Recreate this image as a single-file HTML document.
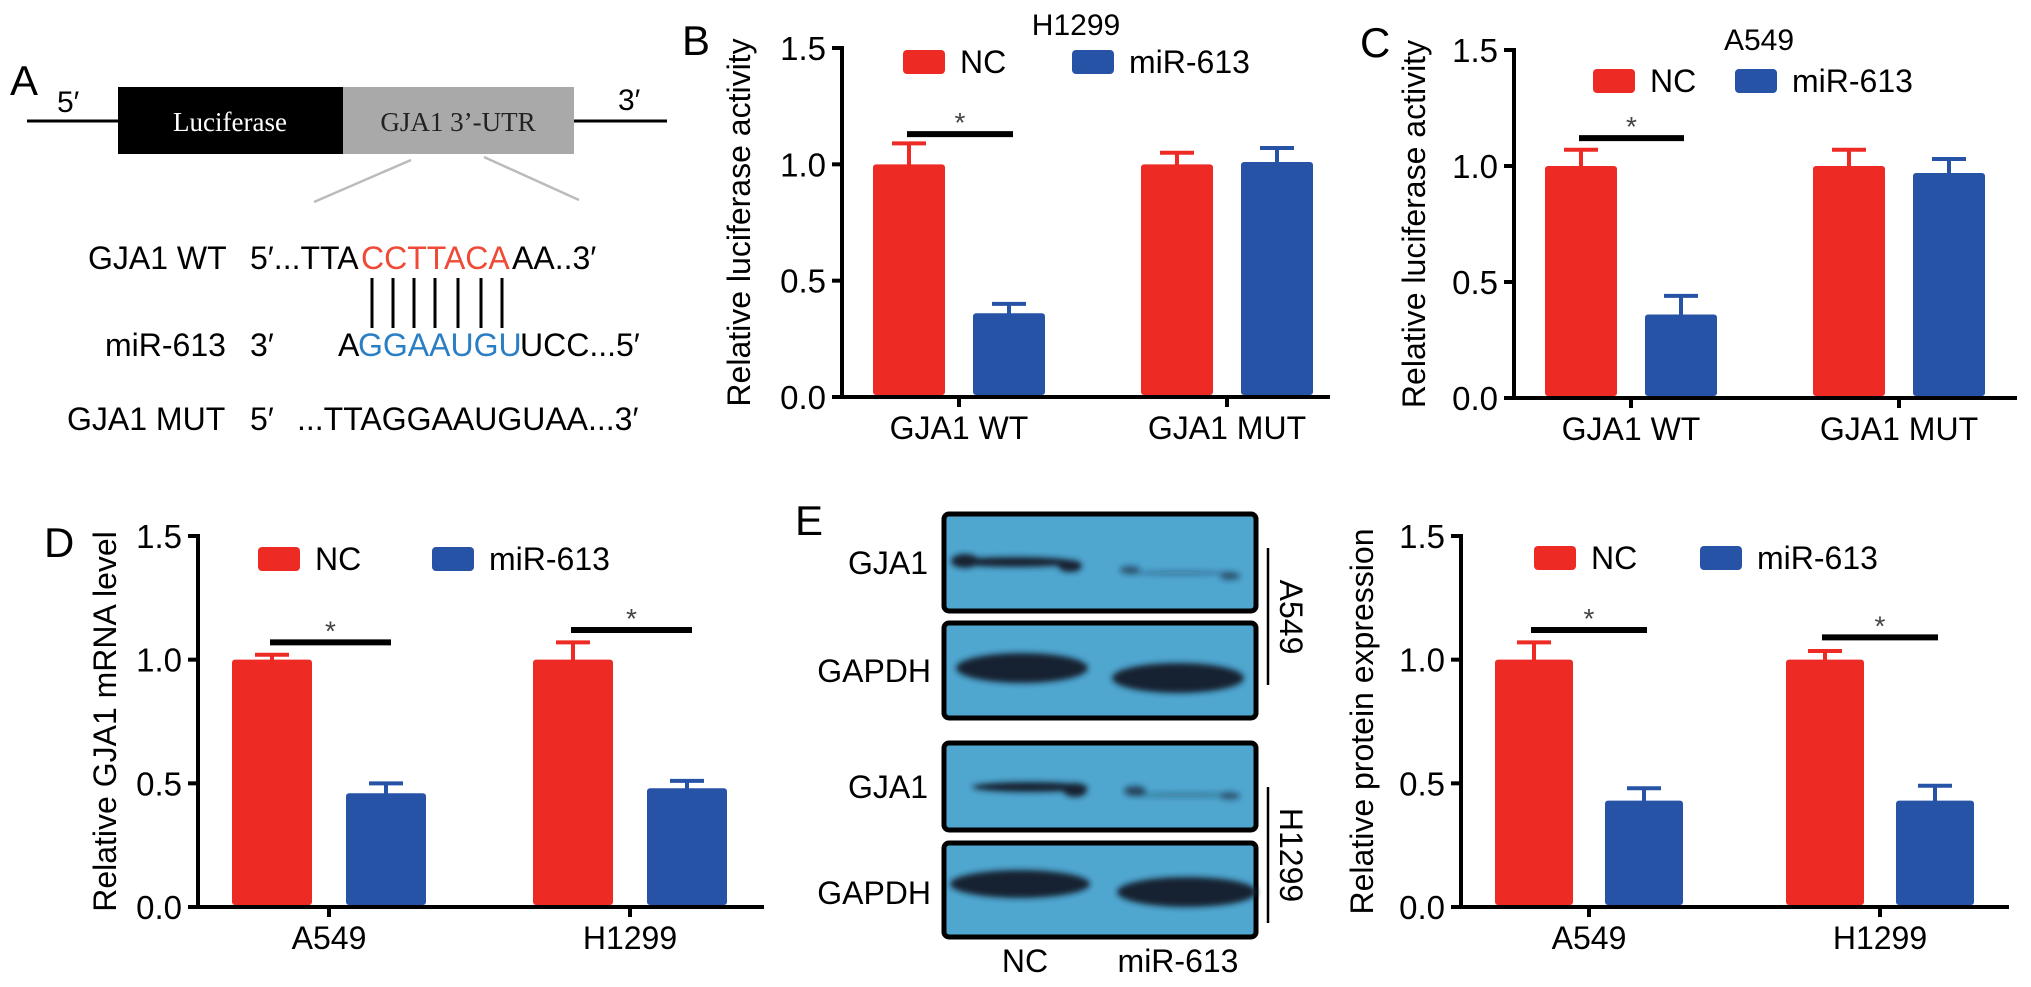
<!DOCTYPE html>
<html><head><meta charset="utf-8">
<style>
html,body{margin:0;padding:0;background:#fff;}
svg{display:block;font-family:"Liberation Sans",Arial,sans-serif;}
</style></head>
<body>
<svg id="fig" width="2031" height="987" viewBox="0 0 2031 987" xmlns="http://www.w3.org/2000/svg">
<defs>
<filter id="blur2" x="-20%" y="-200%" width="140%" height="500%"><feGaussianBlur stdDeviation="3"/></filter>
</defs>
<!-- Panel A -->
<g>
  <text x="10" y="95" font-size="42">A</text>
  <text x="57" y="112" font-size="30">5′</text>
  <line x1="27" y1="121" x2="118" y2="121" stroke="#000" stroke-width="3"/>
  <rect x="118" y="87" width="225" height="67" fill="#000"/>
  <text x="230" y="131" font-size="27" fill="#fff" text-anchor="middle" font-family="Liberation Serif, serif">Luciferase</text>
  <rect x="343" y="87" width="231" height="67" fill="#a9a9a9"/>
  <text x="458" y="131" font-size="27" fill="#222" text-anchor="middle" font-family="Liberation Serif, serif">GJA1 3’-UTR</text>
  <line x1="574" y1="121" x2="667" y2="121" stroke="#000" stroke-width="3"/>
  <text x="618" y="110" font-size="30">3′</text>
  <line x1="411" y1="160" x2="314" y2="202" stroke="#bbb" stroke-width="2.5"/>
  <line x1="484" y1="157" x2="579" y2="200" stroke="#bbb" stroke-width="2.5"/>
  <text x="88" y="269" font-size="32">GJA1 WT</text>
  <text x="250" y="269" font-size="32">5′...TTA</text>
  <text x="361" y="269" font-size="32" fill="#ee4a35">CCTTACA</text>
  <text x="512" y="269" font-size="32">AA..3′</text>
  <g stroke="#000" stroke-width="3">
    <line x1="372" y1="278" x2="372" y2="328"/><line x1="393" y1="278" x2="393" y2="328"/>
    <line x1="414" y1="278" x2="414" y2="328"/><line x1="435" y1="278" x2="435" y2="328"/>
    <line x1="458" y1="278" x2="458" y2="328"/><line x1="481" y1="278" x2="481" y2="328"/>
    <line x1="502" y1="278" x2="502" y2="328"/>
  </g>
  <text x="105" y="356" font-size="32">miR-613</text>
  <text x="250" y="356" font-size="32">3′</text>
  <text x="338" y="356" font-size="32">A</text>
  <text x="358" y="356" font-size="32" fill="#2a7fc4">GGAAUGU</text>
  <text x="520" y="356" font-size="32">UCC...5′</text>
  <text x="67" y="430" font-size="32">GJA1 MUT</text>
  <text x="250" y="430" font-size="32">5′</text>
  <text x="297" y="430" font-size="32">...TTAGGAAUGUAA...3′</text>
</g>
<g id="charts"></g>
<!-- Panel E blots -->
<g>
  <text x="795" y="535" font-size="42">E</text>
  <rect x="944" y="514" width="312" height="97" rx="5" fill="#4fa6cf" stroke="#000" stroke-width="5"/>
  <rect x="944" y="623" width="312" height="95" rx="5" fill="#4fa6cf" stroke="#000" stroke-width="5"/>
  <rect x="944" y="743" width="312" height="87" rx="5" fill="#4fa6cf" stroke="#000" stroke-width="5"/>
  <rect x="944" y="843" width="312" height="94" rx="5" fill="#4fa6cf" stroke="#000" stroke-width="5"/>
  <g fill="#142030" filter="url(#blur2)">
    <ellipse cx="1015" cy="562" rx="60" ry="5"/><ellipse cx="965" cy="561" rx="14" ry="7"/><ellipse cx="1070" cy="566" rx="12" ry="6"/>
    <ellipse cx="1130" cy="570" rx="10" ry="4" opacity="0.6"/><ellipse cx="1230" cy="576" rx="10" ry="4" opacity="0.6"/><ellipse cx="1180" cy="573" rx="50" ry="2" opacity="0.35"/>
    <ellipse cx="1022" cy="668" rx="66" ry="15"/><ellipse cx="1178" cy="678" rx="66" ry="15"/>
    <ellipse cx="1030" cy="787" rx="58" ry="5"/><ellipse cx="1075" cy="790" rx="12" ry="7"/>
    <ellipse cx="1135" cy="791" rx="11" ry="5" opacity="0.7"/><ellipse cx="1185" cy="795" rx="55" ry="2" opacity="0.4"/><ellipse cx="1230" cy="796" rx="10" ry="4" opacity="0.5"/>
    <ellipse cx="1020" cy="884" rx="70" ry="14"/><ellipse cx="1187" cy="892" rx="70" ry="15"/>
  </g>
  <text x="928" y="574" font-size="32" text-anchor="end">GJA1</text>
  <text x="931" y="682" font-size="32" text-anchor="end">GAPDH</text>
  <text x="928" y="798" font-size="32" text-anchor="end">GJA1</text>
  <text x="931" y="904" font-size="32" text-anchor="end">GAPDH</text>
  <line x1="1268" y1="548" x2="1268" y2="685" stroke="#000" stroke-width="2.5"/>
  <line x1="1268" y1="787" x2="1268" y2="923" stroke="#000" stroke-width="2.5"/>
  <text transform="translate(1280,617) rotate(90)" font-size="32" text-anchor="middle">A549</text>
  <text transform="translate(1280,855) rotate(90)" font-size="32" text-anchor="middle">H1299</text>
  <text x="1025" y="972" font-size="32" text-anchor="middle">NC</text>
  <text x="1178" y="972" font-size="32" text-anchor="middle">miR-613</text>
</g>
</svg>
<script>
// ---- data ----
const tickValues = [0, 0.5, 1.0, 1.5];
const tickLabels = ['0.0', '0.5', '1.0', '1.5'];
const seriesNames = ['NC', 'miR-613'];
const bCategories = ['GJA1 WT', 'GJA1 MUT'];
const bNC = [1.0, 1.0];
const bNCerr = [0.09, 0.05];
const bMiR = [0.36, 1.01];
const bMiRerr = [0.04, 0.06];
const bSig = [1.13, null];
const cCategories = ['GJA1 WT', 'GJA1 MUT'];
const cNC = [1.0, 1.0];
const cNCerr = [0.07, 0.07];
const cMiR = [0.36, 0.97];
const cMiRerr = [0.08, 0.06];
const cSig = [1.12, null];
const dCategories = ['A549', 'H1299'];
const dNC = [1.0, 1.0];
const dNCerr = [0.02, 0.07];
const dMiR = [0.46, 0.48];
const dMiRerr = [0.04, 0.03];
const dSig = [1.07, 1.12];
const eCategories = ['A549', 'H1299'];
const eNC = [1.0, 1.0];
const eNCerr = [0.07, 0.035];
const eMiR = [0.43, 0.43];
const eMiRerr = [0.05, 0.06];
const eSig = [1.12, 1.09];

const RED = '#ee2a24', BLUE = '#2753a7';
const NS = 'http://www.w3.org/2000/svg';
const root = document.getElementById('charts');
function mk(tag, attrs, parent) {
  const e = document.createElementNS(NS, tag);
  for (const k in attrs) e.setAttribute(k, attrs[k]);
  (parent || root).appendChild(e);
  return e;
}
function chart(o) {
  const g = mk('g', {});
  
  
  const yScale = v => o.y0 - v * (o.y0 - o.y15) / 1.5;
  const xCenter = i => o.c0 + i * o.spacing;
  const L = mk('text', {x: o.letterX, y: o.letterY, 'font-size': 42}, g);
  L.textContent = o.letter;
  
  
  if (o.title) {
    const t = mk('text', {x: o.titleX, y: o.titleY, 'font-size': 30, 'text-anchor': 'middle'}, g);
    t.textContent = o.title;
    
    
  }
  const yl = mk('text', {transform: `translate(${o.ylabX},${(o.y0 + o.y15) / 2}) rotate(-90)`, 'font-size': 32, 'text-anchor': 'middle'}, g);
  yl.textContent = o.ylabel;
  
  
  const ya = mk('line', {x1: o.ax, y1: yScale(1.5) - 2, x2: o.ax, y2: o.y0, stroke: '#000', 'stroke-width': 4}, g);
  
  
  tickValues.forEach((v, i) => {
    const tk = mk('line', {x1: o.ax - 10, y1: yScale(v), x2: o.ax, y2: yScale(v), stroke: '#000', 'stroke-width': 4}, g);
    
    
    const tl = mk('text', {x: o.ax - 16, y: yScale(v) + 12, 'font-size': 33, 'text-anchor': 'end'}, g);
    tl.textContent = tickLabels[i];
    
    
  });
  const xa = mk('line', {x1: o.ax - 2, y1: o.y0, x2: o.xEnd, y2: o.y0, stroke: '#000', 'stroke-width': 4}, g);
  
  
  o.cats.forEach((c, i) => {
    const cx = xCenter(i);
    const tk = mk('line', {x1: cx, y1: o.y0, x2: cx, y2: o.y0 + 10, stroke: '#000', 'stroke-width': 4}, g);
    
    
    const tl = mk('text', {x: cx, y: o.y0 + 42, 'font-size': 32, 'text-anchor': 'middle'}, g);
    tl.textContent = c;
    
    
    [[o.nc, o.ncErr, RED, -1], [o.mir, o.mirErr, BLUE, 1]].forEach(([vals, errs, col, sgn]) => {
      const bc = cx + sgn * o.off;
      const top = yScale(vals[i]);
      const et = yScale(vals[i] + errs[i]);
      const el = mk('line', {x1: bc, y1: et, x2: bc, y2: top + 2, stroke: col, 'stroke-width': 4}, g);
      
      
      const ec = mk('line', {x1: bc - 17, y1: et, x2: bc + 17, y2: et, stroke: col, 'stroke-width': 4}, g);
      
      
      const r = mk('rect', {x: bc - o.bw / 2, y: top, width: o.bw, height: o.y0 - top - 2, rx: 3, fill: col}, g);
      
      
    });
    if (o.sig[i] != null) {
      const sy = yScale(o.sig[i]);
      const sl = mk('line', {x1: cx + o.sigL, y1: sy, x2: cx + o.sigR, y2: sy, stroke: '#000', 'stroke-width': 6}, g);
      
      
      const st = mk('text', {x: cx + (o.sigL + o.sigR) / 2, y: sy - 2, 'font-size': 28, 'text-anchor': 'middle', fill: '#444'}, g);
      st.textContent = '*';
      
      
    }
  });
  [[o.legX[0], RED], [o.legX[1], BLUE]].forEach(([lx, col], k) => {
    const sw = mk('rect', {x: lx, y: o.legY, width: 42, height: 24, rx: 4, fill: col}, g);
    
    
    const lt = mk('text', {x: lx + 57, y: o.legY + 23, 'font-size': 32}, g);
    lt.textContent = seriesNames[k];
    
    
  });
}
chart({name: 'panel-b-chart', letter: 'B', letterX: 682, letterY: 55, title: 'H1299', titleX: 1076, titleY: 35,
  ylabel: 'Relative luciferase activity', ylabX: 750, ax: 842, y0: 397, y15: 48, xEnd: 1330,
  cats: bCategories, c0: 959, spacing: 268, off: 50, bw: 72,
  nc: bNC, ncErr: bNCerr, mir: bMiR, mirErr: bMiRerr, sig: bSig, sigL: -52, sigR: 54, legX: [903, 1072], legY: 50});
chart({name: 'panel-c-chart', letter: 'C', letterX: 1360, letterY: 57, title: 'A549', titleX: 1759, titleY: 50,
  ylabel: 'Relative luciferase activity', ylabX: 1425, ax: 1514, y0: 398, y15: 50, xEnd: 2017,
  cats: cCategories, c0: 1631, spacing: 268, off: 50, bw: 72,
  nc: cNC, ncErr: cNCerr, mir: cMiR, mirErr: cMiRerr, sig: cSig, sigL: -52, sigR: 53, legX: [1593, 1735], legY: 69});
chart({name: 'panel-d-chart', letter: 'D', letterX: 44, letterY: 557, title: null,
  ylabel: 'Relative GJA1 mRNA level', ylabX: 116, ax: 198, y0: 907, y15: 536, xEnd: 764,
  cats: dCategories, c0: 329, spacing: 301, off: 57, bw: 80,
  nc: dNC, ncErr: dNCerr, mir: dMiR, mirErr: dMiRerr, sig: dSig, sigL: -59, sigR: 62, legX: [258, 432], legY: 547});
chart({name: 'panel-e-chart', letter: '', letterX: 0, letterY: 0, title: null,
  ylabel: 'Relative protein expression', ylabX: 1373, ax: 1461, y0: 907, y15: 536, xEnd: 2009,
  cats: eCategories, c0: 1589, spacing: 291, off: 55, bw: 78,
  nc: eNC, ncErr: eNCerr, mir: eMiR, mirErr: eMiRerr, sig: eSig, sigL: -58, sigR: 58, legX: [1534, 1700], legY: 546});
</script>
</body></html>
